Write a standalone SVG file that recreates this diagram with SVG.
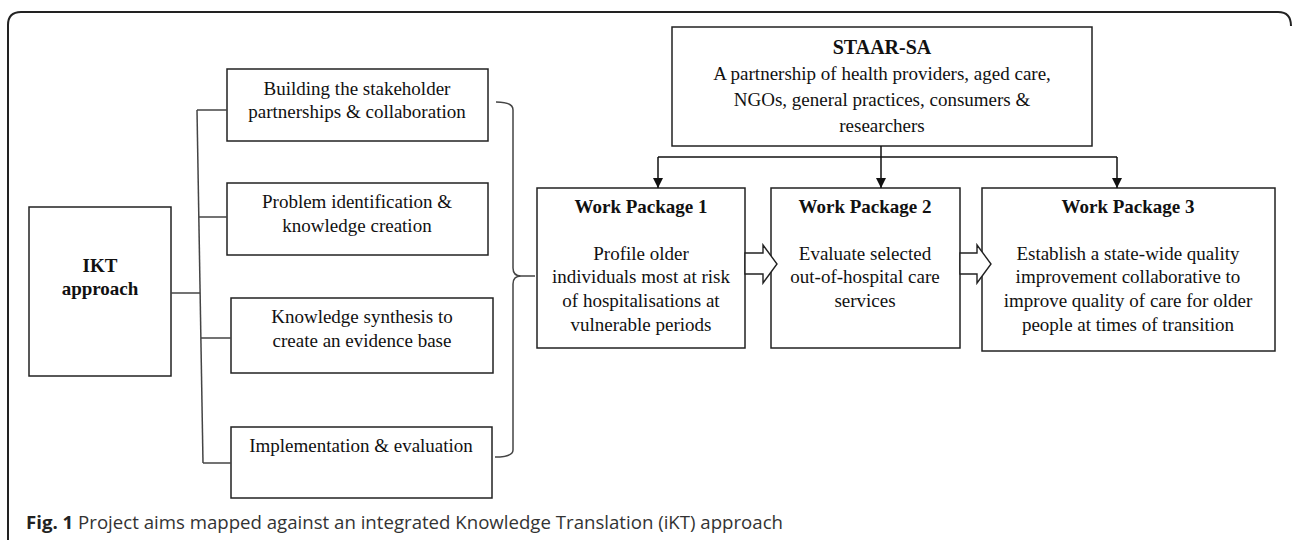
<svg xmlns="http://www.w3.org/2000/svg" width="1292" height="540" viewBox="0 0 1292 540">
<style>
.box{fill:#fff;stroke:#222;stroke-width:1.5}
.t{font-family:"Liberation Serif","Times New Roman",serif;font-size:19px;fill:#111;text-anchor:middle}
.b{font-weight:bold}
.ln{fill:none;stroke:#444;stroke-width:1.5}
.ar{fill:none;stroke:#111;stroke-width:1.5}
.blk{fill:#fff;stroke:#222;stroke-width:1.4;stroke-linejoin:miter}
.cap{font-family:"Open Sans","Noto Sans",sans-serif;font-size:17.5px;fill:#333}
</style>
<defs>
<marker id="ah" viewBox="0 0 10 10" refX="10" refY="5" markerWidth="10" markerHeight="10" markerUnits="userSpaceOnUse" orient="auto">
<path d="M0,0 L10,5 L0,10 Z" fill="#111"/>
</marker>
</defs>
<path d="M8,540 V25 Q8,12 21,12 H1278 Q1291,12 1291,26" fill="none" stroke="#222" stroke-width="2"/>
<g id="ikt">
<rect class="box" x="29" y="207" width="142" height="169"/>
<text class="t b" x="100" y="272">IKT</text>
<text class="t b" x="100" y="295">approach</text>
</g>
<g id="building">
<rect class="box" x="227" y="69" width="261" height="72"/>
<text class="t" x="357" y="95">Building the stakeholder</text>
<text class="t" x="357" y="118">partnerships &amp; collaboration</text>
</g>
<g id="problem">
<rect class="box" x="227" y="183" width="261" height="72"/>
<text class="t" x="357" y="208">Problem identification &amp;</text>
<text class="t" x="357" y="232">knowledge creation</text>
</g>
<g id="knowledge">
<rect class="box" x="231" y="298" width="262" height="75"/>
<text class="t" x="362" y="323">Knowledge synthesis to</text>
<text class="t" x="362" y="347">create an evidence base</text>
</g>
<g id="implementation">
<rect class="box" x="231" y="427" width="261" height="71"/>
<text class="t" x="361" y="452">Implementation &amp; evaluation</text>
</g>
<g id="staar">
<rect class="box" x="672" y="27" width="420" height="119"/>
<text class="t b" x="882" y="54" style="font-size:20px">STAAR-SA</text>
<text class="t" x="882" y="80">A partnership of health providers, aged care,</text>
<text class="t" x="882" y="106">NGOs, general practices, consumers &amp;</text>
<text class="t" x="882" y="132">researchers</text>
</g>
<g id="wp1">
<rect class="box" x="537" y="188" width="208" height="160"/>
<text class="t b" x="641" y="213">Work Package 1</text>
<text class="t" x="641" y="260">Profile older</text>
<text class="t" x="641" y="283">individuals most at risk</text>
<text class="t" x="641" y="307">of hospitalisations at</text>
<text class="t" x="641" y="331">vulnerable periods</text>
</g>
<g id="wp2">
<rect class="box" x="771" y="188" width="189" height="160"/>
<text class="t b" x="865" y="213">Work Package 2</text>
<text class="t" x="865" y="260">Evaluate selected</text>
<text class="t" x="865" y="283">out-of-hospital care</text>
<text class="t" x="865" y="307">services</text>
</g>
<g id="wp3">
<rect class="box" x="982" y="188" width="293" height="163"/>
<text class="t b" x="1128" y="213">Work Package 3</text>
<text class="t" x="1128" y="260">Establish a state-wide quality</text>
<text class="t" x="1128" y="283">improvement collaborative to</text>
<text class="t" x="1128" y="307">improve quality of care for older</text>
<text class="t" x="1128" y="331">people at times of transition</text>
</g>
<g id="connectors">
<path class="ln" d="M197,110 L203,463"/>
<path class="ln" d="M197,110 H227"/>
<path class="ln" d="M199,217 H227"/>
<path class="ln" d="M171,293 H200"/>
<path class="ln" d="M201,338 H231"/>
<path class="ln" d="M203,463 H231"/>
<path class="ln" d="M496,102 Q513,102 513,110 V268 Q513,276 521,276 H535 M521,276 Q513,276 513,284 V450 Q513,457 495,457"/>
<path class="ar" d="M658,157 H1117"/>
<path class="ar" d="M881,146 V188" marker-end="url(#ah)"/>
<path class="ar" d="M658,157 V188" marker-end="url(#ah)"/>
<path class="ar" d="M1117,157 V188" marker-end="url(#ah)"/>
<path class="blk" d="M745,253 H763 V245 L777,264 L763,283 V274 H745 Z"/>
<path class="blk" d="M960,253 H977 V245 L991,264 L977,283 V274 H960 Z"/>
</g>
<g id="caption">
<text class="cap" x="26" y="529" textLength="757" lengthAdjust="spacingAndGlyphs"><tspan font-weight="bold" fill="#222">Fig. 1</tspan> Project aims mapped against an integrated Knowledge Translation (iKT) approach</text>
</g>
</svg>
